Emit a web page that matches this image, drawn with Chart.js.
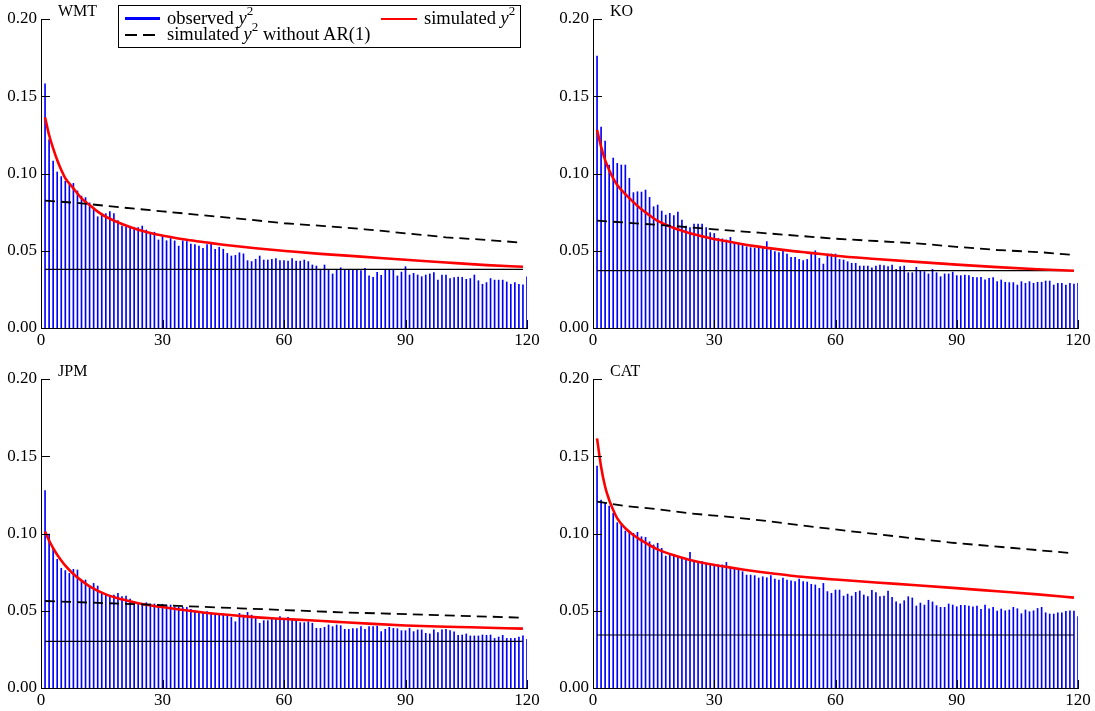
<!DOCTYPE html>
<html>
<head>
<meta charset="utf-8">
<script src="https://cdn.jsdelivr.net/npm/chart.js@4.4.1/dist/chart.umd.min.js"></script>
<style>
  body { margin: 0; background: #fff; width: 1095px; height: 711px; overflow: hidden; position: relative; font-family: "Liberation Serif", serif; }
  canvas { position: absolute; }
  #legend { position: absolute; left: 118px; top: 5px; width: 403px; height: 43px; box-sizing: border-box; border: 1px solid #000; background: #fff; }
  #legend .sw { position: absolute; }
  #legend .lt { position: absolute; font-size: 18.5px; line-height: 18px; white-space: nowrap; color: #000; }
  #legend sup { font-size: 13px; line-height: 0; position: relative; top: -2px; vertical-align: super; }
</style>
</head>
<body>
<canvas id="wmt" width="547" height="355" style="left:0;top:0"></canvas>
<canvas id="ko" width="543" height="355" style="left:552px;top:0"></canvas>
<canvas id="jpm" width="547" height="351" style="left:0;top:360px"></canvas>
<canvas id="cat" width="543" height="351" style="left:552px;top:360px"></canvas>

<div id="legend">
  <div class="sw" style="left:6px;top:11px;width:35px;height:3px;background:#0000ff"></div>
  <span class="lt" style="left:48px;top:3px">observed <i>y</i><sup>2</sup></span>
  <div class="sw" style="left:262px;top:12px;width:36px;height:2px;background:#ff0000"></div>
  <span class="lt" style="left:305px;top:3px">simulated <i>y</i><sup>2</sup></span>
  <div class="sw" style="left:6px;top:28px;width:12px;height:2px;background:#000"></div>
  <div class="sw" style="left:24px;top:28px;width:12px;height:2px;background:#000"></div>
  <span class="lt" style="left:48px;top:19px">simulated <i>y</i><sup>2</sup> without AR(1)</span>
</div>

<script>
// lags 1..120 for the observed bars
const lags = Array.from({ length: 120 }, (_, i) => i + 1);

const xTicks = [0, 30, 60, 90, 120];
const yTicks = [0, 0.05, 0.10, 0.15, 0.20];

// observed y^2 autocorrelations
const wmtBars = [
  0.158, 0.122, 0.108, 0.101, 0.098, 0.095, 0.0926, 0.0936, 0.0887, 0.0854,
  0.0844, 0.081, 0.0775, 0.072, 0.074, 0.074, 0.0753, 0.074, 0.0695, 0.066,
  0.0655, 0.065, 0.065, 0.065, 0.066, 0.0634, 0.062, 0.062, 0.057, 0.0595,
  0.0565, 0.058, 0.0564, 0.053, 0.0565, 0.056, 0.0543, 0.054, 0.053, 0.0515,
  0.054, 0.0543, 0.051, 0.0523, 0.051, 0.0483, 0.0466, 0.047, 0.0487, 0.048,
  0.0436, 0.043, 0.0445, 0.0466, 0.044, 0.044, 0.0445, 0.045, 0.0436, 0.0436,
  0.0433, 0.045, 0.0433, 0.0433, 0.044, 0.043, 0.0408, 0.0401, 0.038, 0.0408,
  0.038, 0.035, 0.038, 0.039, 0.038, 0.038, 0.038, 0.038, 0.0372, 0.0386,
  0.0337, 0.0328, 0.036, 0.0341, 0.038, 0.038, 0.038, 0.0337, 0.0362, 0.0397,
  0.0343, 0.0354, 0.0343, 0.0332, 0.0343, 0.035, 0.0358, 0.031, 0.0343, 0.0343,
  0.032, 0.0326, 0.033, 0.0328, 0.0315, 0.032, 0.0343, 0.0306, 0.0283, 0.0294,
  0.032, 0.031, 0.031, 0.031, 0.0298, 0.0283, 0.0294, 0.0283, 0.0279, 0.0332
];
const koBars = [
  0.176, 0.130, 0.121, 0.1055, 0.110, 0.1066, 0.1055, 0.1055, 0.0969, 0.0876,
  0.0882, 0.088, 0.0893, 0.0846, 0.0785, 0.0796, 0.0757, 0.0731, 0.0742, 0.0727,
  0.0751, 0.0699, 0.066, 0.065, 0.0673, 0.0673, 0.0673, 0.065, 0.0617, 0.0612,
  0.058, 0.0577, 0.057, 0.0587, 0.0552, 0.0552, 0.0537, 0.0526, 0.052, 0.0517,
  0.052, 0.0517, 0.0559, 0.0505, 0.0494, 0.0488, 0.0497, 0.0479, 0.0457, 0.0457,
  0.0444, 0.0436, 0.0444, 0.0479, 0.050, 0.0451, 0.0414, 0.0479, 0.0479, 0.0479,
  0.0444, 0.044, 0.0429, 0.0419, 0.0419, 0.0401, 0.0401, 0.0401, 0.039, 0.0401,
  0.0408, 0.0404, 0.0397, 0.0408, 0.038, 0.0397, 0.0401, 0.0358, 0.0358, 0.0393,
  0.0371, 0.0365, 0.035, 0.038, 0.0358, 0.0332, 0.035, 0.035, 0.0362, 0.0339,
  0.0339, 0.0343, 0.0339, 0.0328, 0.0326, 0.0328, 0.0311, 0.0322, 0.0326, 0.030,
  0.0311, 0.0296, 0.0294, 0.0294, 0.0278, 0.030, 0.0289, 0.030, 0.0289, 0.0296,
  0.0296, 0.0304, 0.0304, 0.0278, 0.0289, 0.0289, 0.0278, 0.0289, 0.0285, 0.0289
];
const jpmBars = [
  0.1277, 0.0997, 0.0908, 0.0833, 0.0775, 0.076, 0.0742, 0.0768, 0.0764, 0.0688,
  0.0699, 0.066, 0.0677, 0.066, 0.0613, 0.0602, 0.0591, 0.0602, 0.0613, 0.0591,
  0.0595, 0.0576, 0.0559, 0.0544, 0.0548, 0.0552, 0.0544, 0.0544, 0.0542, 0.0542,
  0.0537, 0.0537, 0.0526, 0.0522, 0.0522, 0.0522, 0.0509, 0.0498, 0.0483, 0.0483,
  0.0494, 0.0488, 0.0483, 0.0479, 0.0479, 0.0466, 0.0457, 0.0429, 0.0483, 0.0472,
  0.049, 0.0472, 0.0462, 0.0419, 0.0436, 0.0436, 0.0457, 0.0444, 0.0462, 0.0444,
  0.0457, 0.0444, 0.0444, 0.0423, 0.0423, 0.0429, 0.0419, 0.0386, 0.0386, 0.0393,
  0.0408, 0.0397, 0.0408, 0.0404, 0.038, 0.038, 0.0384, 0.0384, 0.0397, 0.038,
  0.0397, 0.0397, 0.0401, 0.0365, 0.038, 0.0393, 0.0386, 0.0384, 0.0371, 0.0371,
  0.0386, 0.0365, 0.0376, 0.0376, 0.0354, 0.035, 0.0376, 0.0358, 0.0376, 0.038,
  0.0371, 0.0363, 0.0341, 0.0343, 0.035, 0.0337, 0.0337, 0.0337, 0.0343, 0.0341,
  0.0343, 0.0321, 0.033, 0.0341, 0.0321, 0.0321, 0.0321, 0.033, 0.0337, 0.0315
];
const catBars = [
  0.1437, 0.1217, 0.1195, 0.1178, 0.1131, 0.107, 0.1053, 0.1016, 0.1016, 0.1001,
  0.1008, 0.0979, 0.0975, 0.0947, 0.0926, 0.0937, 0.0904, 0.0854, 0.0861, 0.0861,
  0.0846, 0.0839, 0.0828, 0.0878, 0.0818, 0.0818, 0.0818, 0.0807, 0.0803, 0.079,
  0.0797, 0.0797, 0.0813, 0.0779, 0.077, 0.077, 0.0753, 0.0731, 0.0731, 0.0727,
  0.0712, 0.072, 0.0714, 0.0727, 0.0705, 0.0699, 0.0712, 0.0699, 0.0693, 0.0688,
  0.0705, 0.0688, 0.0686, 0.0671, 0.0667, 0.0645, 0.0677, 0.0624, 0.0613, 0.0634,
  0.0634, 0.0595, 0.0608, 0.0595, 0.0619, 0.0628, 0.0602, 0.0591, 0.0632, 0.0617,
  0.0591, 0.0595, 0.0628, 0.0587, 0.0557, 0.0544, 0.0565, 0.0591, 0.0583, 0.0531,
  0.055, 0.0537, 0.0568, 0.0557, 0.0533, 0.0522, 0.0522, 0.0544, 0.0537, 0.0526,
  0.0535, 0.0535, 0.0531, 0.0526, 0.0531, 0.0509, 0.0537, 0.0513, 0.0522, 0.0498,
  0.0511, 0.05, 0.0505, 0.0522, 0.0513, 0.0481, 0.0505, 0.0494, 0.05, 0.0515,
  0.0522, 0.0487, 0.0479, 0.0479, 0.0487, 0.0487, 0.0496, 0.05, 0.0498, 0.0462
];

// simulated y^2 (red)
const wmtSimLags = [1, 2, 3, 4, 5, 6, 8, 10, 12, 14, 16, 20, 24, 28, 32, 36, 41, 45, 49, 53, 57, 61, 69, 79, 90, 100, 110, 119];
const wmtSim = [0.1364, 0.1249, 0.1163, 0.1087, 0.1023, 0.0969, 0.0904, 0.0839, 0.0796, 0.0753, 0.072, 0.0673, 0.0636, 0.0609, 0.0589, 0.0571, 0.0553, 0.0539, 0.0527, 0.0516, 0.0506, 0.0497, 0.048, 0.0462, 0.0442, 0.0424, 0.0407, 0.0396];
const koSimLags = [1, 2, 3, 4, 5, 6, 8, 10, 12, 14, 16, 20, 24, 28, 32, 36, 40, 45, 49, 53, 57, 60, 70, 80, 90, 100, 110, 119];
const koSim = [0.1282, 0.1174, 0.1087, 0.1023, 0.0969, 0.0926, 0.0866, 0.0815, 0.0768, 0.0729, 0.0693, 0.0647, 0.0614, 0.0588, 0.0566, 0.0547, 0.053, 0.0512, 0.0499, 0.0488, 0.0477, 0.0468, 0.0447, 0.0428, 0.041, 0.0394, 0.038, 0.0371];
const jpmSimLags = [1, 2, 3, 4, 5, 6, 8, 10, 12, 16, 20, 24, 32, 40, 49, 57, 65, 73, 82, 90, 98, 106, 119];
const jpmSim = [0.1012, 0.0955, 0.0905, 0.0862, 0.0825, 0.0792, 0.0738, 0.0695, 0.0658, 0.0606, 0.0574, 0.0549, 0.0516, 0.0489, 0.0467, 0.0451, 0.044, 0.0428, 0.0415, 0.0405, 0.0398, 0.0393, 0.0384];
const catSimLags = [1, 2, 3, 4, 5, 6, 8, 10, 12, 14, 16, 20, 24, 28, 33, 37, 41, 45, 49, 53, 57, 60, 70, 80, 89, 100, 110, 119];
const catSim = [0.1616, 0.1432, 0.1303, 0.1217, 0.1152, 0.1098, 0.1034, 0.099, 0.0955, 0.0924, 0.0897, 0.0859, 0.0829, 0.0806, 0.0784, 0.0767, 0.0752, 0.0739, 0.0727, 0.0717, 0.0708, 0.0702, 0.0683, 0.0665, 0.0648, 0.0626, 0.0606, 0.0585];

// simulated y^2 without AR(1) (dashed)
const wmtNoArLags = [1, 10, 20, 30, 40, 50, 60, 70, 80, 90, 100, 110, 119];
const wmtNoAr = [0.0825, 0.0807, 0.078, 0.0755, 0.073, 0.0705, 0.0678, 0.066, 0.0639, 0.0613, 0.0587, 0.057, 0.0552];
const koNoArLags = [1, 20, 30, 41, 60, 70, 80, 90, 100, 111, 119];
const koNoAr = [0.0695, 0.066, 0.0639, 0.0617, 0.0578, 0.0563, 0.0548, 0.0525, 0.0505, 0.049, 0.0472];
const jpmNoArLags = [1, 24, 49, 74, 98, 119];
const jpmNoAr = [0.0563, 0.0542, 0.0516, 0.049, 0.0472, 0.0455];
const catNoArLags = [1, 8, 16, 24, 33, 41, 49, 61, 89, 119];
const catNoAr = [0.1206, 0.1178, 0.1157, 0.113, 0.1109, 0.1087, 0.1061, 0.1023, 0.094, 0.0872];

// flat reference level
const wmtLevel = 0.038, koLevel = 0.0371, jpmLevel = 0.0302, catLevel = 0.0343;

Chart.defaults.font.family = '"Liberation Serif", "Times New Roman", serif';
Chart.defaults.font.size = 17;
Chart.defaults.color = '#000';

const pts = (xs, ys) => xs.map((x, i) => ({ x: x, y: ys[i] }));

// inward tick marks and the panel name
const panelDeco = {
  id: 'panelDeco',
  afterDraw(chart, args, opts) {
    const { ctx, chartArea: a, scales: { x, y } } = chart;
    ctx.save();
    ctx.strokeStyle = '#000';
    ctx.lineWidth = 1;
    ctx.beginPath();
    y.ticks.forEach(t => {
      const py = Math.round(y.getPixelForValue(t.value)) + 0.5;
      ctx.moveTo(a.left, py); ctx.lineTo(a.left + 9, py);
    });
    x.ticks.forEach(t => {
      const px = Math.round(x.getPixelForValue(t.value)) + 0.5;
      ctx.moveTo(px, a.bottom); ctx.lineTo(px, a.bottom - 8);
    });
    ctx.stroke();
    ctx.fillStyle = '#000';
    ctx.font = '16px "Liberation Serif", serif';
    ctx.textBaseline = 'alphabetic';
    ctx.fillText(opts.title, a.left + 17, a.top - 3);
    ctx.restore();
  }
};

function makePanel(id, title, bars, simLags, sim, noArLags, noAr, level, rightPad, xHeight) {
  new Chart(document.getElementById(id), {
    type: 'bar',
    data: {
      datasets: [
        { type: 'line', data: pts(noArLags, noAr), borderColor: '#000', borderWidth: 1.8, borderDash: [10, 6], pointRadius: 0, order: 0 },
        { type: 'line', data: pts(simLags, sim), borderColor: '#ff0000', borderWidth: 2.6, pointRadius: 0, cubicInterpolationMode: 'monotone', order: 1 },
        { type: 'line', data: pts([1, 119], [level, level]), borderColor: '#000', borderWidth: 1.2, pointRadius: 0, order: 2 },
        { type: 'bar', data: pts(lags, bars), backgroundColor: '#0000ff', barThickness: 1, borderWidth: 0, order: 3 }
      ]
    },
    options: {
      responsive: false,
      animation: false,
      layout: { padding: { left: 0, top: 19, right: rightPad, bottom: 0 } },
      plugins: { legend: { display: false }, tooltip: { enabled: false }, panelDeco: { title: title } },
      scales: {
        x: {
          type: 'linear', min: 0, max: 120, offset: false,
          afterBuildTicks: s => { s.ticks = xTicks.map(v => ({ value: v })); },
          afterFit: s => { s.height = xHeight; },
          ticks: { padding: 2, maxRotation: 0, autoSkip: false, callback: v => String(v) },
          grid: { display: false, drawTicks: false, offset: false },
          border: { display: true, color: '#000', width: 1 }
        },
        y: {
          min: 0, max: 0.2,
          afterBuildTicks: s => { s.ticks = yTicks.map(v => ({ value: v })); },
          afterFit: s => { s.width = 41; },
          ticks: { padding: 4, callback: v => v.toFixed(2) },
          grid: { display: false, drawTicks: false },
          border: { display: true, color: '#000', width: 1 }
        }
      }
    },
    plugins: [panelDeco]
  });
}

makePanel('wmt', 'WMT', wmtBars, wmtSimLags, wmtSim, wmtNoArLags, wmtNoAr, wmtLevel, 20, 27);
makePanel('ko', 'KO', koBars, koSimLags, koSim, koNoArLags, koNoAr, koLevel, 17, 27);
makePanel('jpm', 'JPM', jpmBars, jpmSimLags, jpmSim, jpmNoArLags, jpmNoAr, jpmLevel, 20, 23);
makePanel('cat', 'CAT', catBars, catSimLags, catSim, catNoArLags, catNoAr, catLevel, 17, 23);
</script>
</body>
</html>
